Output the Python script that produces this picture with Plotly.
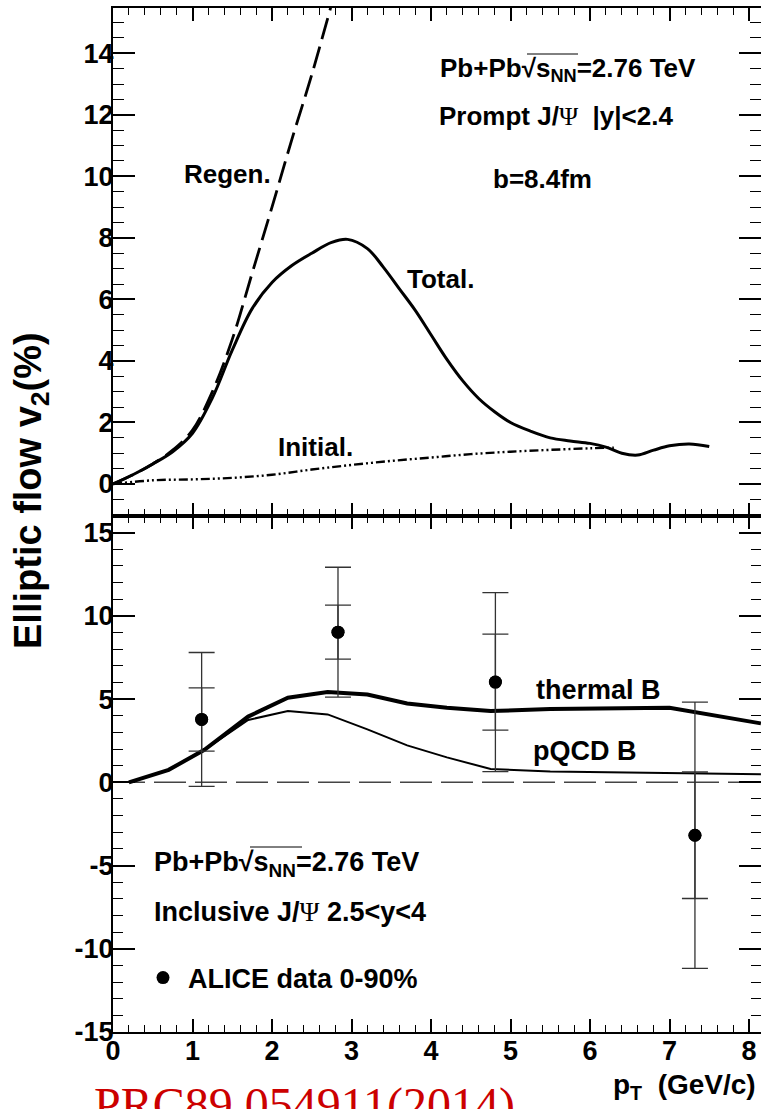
import plotly.graph_objects as go

# ---------------- data ----------------
# top panel: prompt J/psi v2 (%) vs pT
total_x = [0, 0.25, 0.5, 0.75, 1.0, 1.25, 1.5, 1.75, 2.0, 2.25, 2.5, 2.75, 2.95, 3.2, 3.4,
           3.6, 3.8, 4.0, 4.2, 4.4, 4.6, 4.8, 5.0, 5.25, 5.5, 5.75, 6.0, 6.2, 6.4, 6.6,
           6.8, 7.0, 7.25, 7.5]
total_y = [0, 0.3, 0.65, 1.05, 1.65, 2.8, 4.35, 5.7, 6.55, 7.1, 7.5, 7.85, 7.95, 7.65, 7.05,
           6.35, 5.65, 4.85, 4.05, 3.35, 2.78, 2.35, 2.0, 1.72, 1.5, 1.4, 1.32, 1.2, 1.0, 0.94,
           1.1, 1.24, 1.3, 1.22]

regen_x = [0, 0.25, 0.5, 0.75, 1.0, 1.25, 1.5, 1.75, 2.0, 2.25, 2.5, 2.75]
regen_y = [0, 0.3, 0.65, 1.1, 1.75, 3.0, 4.7, 6.85, 9.0, 11.2, 13.3, 15.6]

init_x = [0, 0.5, 1.0, 1.5, 2.0, 2.5, 3.0, 3.5, 4.0, 4.5, 5.0, 5.5, 6.0, 6.3]
init_y = [0, 0.12, 0.15, 0.2, 0.3, 0.47, 0.62, 0.75, 0.86, 0.97, 1.05, 1.11, 1.16, 1.18]

# bottom panel: inclusive J/psi v2 (%) vs pT
thermal_x = [0.2, 0.7, 1.15, 1.7, 2.2, 2.7, 3.2, 3.7, 4.2, 4.75, 5.5, 7.0, 8.15]
thermal_y = [0.0, 0.75, 1.95, 3.95, 5.08, 5.42, 5.28, 4.74, 4.48, 4.28, 4.4, 4.48, 3.54]

pqcd_x = [0.2, 0.7, 1.15, 1.7, 2.2, 2.7, 3.2, 3.7, 4.2, 4.75, 5.5, 7.0, 8.15]
pqcd_y = [0.0, 0.75, 1.95, 3.75, 4.28, 4.08, 3.18, 2.22, 1.5, 0.8, 0.65, 0.54, 0.48]

alice_x = [1.115, 2.83, 4.81, 7.32]
alice_y = [3.78, 9.02, 6.02, -3.18]
alice_err_inner = [1.9, 1.62, 2.88, 3.8]
alice_err_outer = [4.02, 3.9, 5.38, 8.0]

top_yticks = [0, 2, 4, 6, 8, 10, 12, 14]
top_yticktext = ["0", "2", "4", "6", "8", "10", "12", "14"]
bot_yticks = [-15, -10, -5, 0, 5, 10, 15]
bot_yticktext = ["-15", "-10", "-5", "0", "5", "10", "15"]
xticks = [0, 1, 2, 3, 4, 5, 6, 7, 8]
xticktext = ["0", "1", "2", "3", "4", "5", "6", "7", "8"]

# ---------------- layout helpers ----------------
W, H = 761, 1109
ML, MR, MT, MB = 113, 0, 8, 77
PW, PH = W - ML - MR, H - MT - MB


def px(xp):
    return (xp - ML) / PW


def py(yp):
    return (H - MB - yp) / PH


split = py(516)
FONT = "Liberation Sans"
tickfont = dict(family=FONT, size=27, color="black", weight="bold")
txtfont = dict(family=FONT, size=26, color="black", weight="bold")
txtfont2 = dict(family=FONT, size=27, color="black", weight="bold")
PSI = '<span style="font-family:\'Liberation Serif\';font-weight:normal">Ψ</span>'

fig = go.Figure()

fig.add_trace(go.Scatter(x=regen_x, y=regen_y, mode="lines", line_shape="spline",
                         line=dict(color="black", width=2.8, dash="22px,8px"),
                         xaxis="x", yaxis="y", showlegend=False))
fig.add_trace(go.Scatter(x=init_x, y=init_y, mode="lines", line_shape="spline",
                         line=dict(color="black", width=2.4, dash="9px,3px,2px,3px,2px,3px"),
                         xaxis="x", yaxis="y", showlegend=False))
fig.add_trace(go.Scatter(x=total_x, y=total_y, mode="lines", line_shape="spline",
                         line=dict(color="black", width=3),
                         xaxis="x", yaxis="y", showlegend=False))

fig.add_trace(go.Scatter(x=pqcd_x, y=pqcd_y, mode="lines",
                         line=dict(color="black", width=2),
                         xaxis="x2", yaxis="y2", showlegend=False))
fig.add_trace(go.Scatter(x=thermal_x, y=thermal_y, mode="lines",
                         line=dict(color="black", width=4),
                         xaxis="x2", yaxis="y2", showlegend=False))
fig.add_trace(go.Scatter(x=alice_x, y=alice_y, mode="markers",
                         marker=dict(color="black", size=13),
                         error_y=dict(type="data", array=alice_err_outer, color="#333333",
                                      thickness=1.3, width=13),
                         xaxis="x2", yaxis="y2", showlegend=False))
fig.add_trace(go.Scatter(x=alice_x, y=alice_y, mode="markers", name="ALICE data 0-90%",
                         marker=dict(color="black", size=13),
                         error_y=dict(type="data", array=alice_err_inner, color="#333333",
                                      thickness=1.3, width=13),
                         xaxis="x2", yaxis="y2", showlegend=True))

xcommon = dict(range=[0, PW / 79.5], tickmode="array", tickvals=xticks, ticktext=xticktext,
               ticks="inside", ticklen=13, tickwidth=1.5, tickcolor="black",
               minor=dict(ticks="inside", ticklen=7, dtick=0.2, tickwidth=1.2, tickcolor="black"),
               showline=True, linewidth=2, linecolor="black", mirror="allticks",
               showgrid=False, zeroline=False, tickfont=tickfont, ticklabelstandoff=-6)
ycommon = dict(ticks="inside", ticklen=22, tickwidth=1.5, tickcolor="black",
               showline=True, linewidth=2, linecolor="black", mirror="allticks",
               showgrid=False, zeroline=False, tickfont=tickfont, tickmode="array",
               ticklabelstandoff=-8)

fig.update_layout(
    width=W, height=H, margin=dict(l=ML, r=MR, t=MT, b=MB, autoexpand=False),
    paper_bgcolor="white", plot_bgcolor="white",
    xaxis=dict(**xcommon, anchor="y", showticklabels=False),
    yaxis=dict(**ycommon, domain=[split, 1], anchor="x", range=[-1.04, 15.47],
               tickvals=top_yticks, ticktext=top_yticktext,
               minor=dict(ticks="inside", ticklen=11, dtick=0.5, tickwidth=1.2, tickcolor="black")),
    xaxis2=dict(**xcommon, anchor="y2", matches="x"),
    yaxis2=dict(**ycommon, domain=[0, split], anchor="x2", range=[-15, 16],
                tickvals=bot_yticks, ticktext=bot_yticktext,
                minor=dict(ticks="inside", ticklen=10, dtick=1, tickwidth=1.2, tickcolor="black")),
    legend=dict(x=px(138), y=py(978), xanchor="left", yanchor="middle",
                bgcolor="rgba(0,0,0,0)", font=txtfont2, itemwidth=40),
)

ann = [
    dict(text="Pb+Pb√s<sub>NN</sub>=2.76 TeV", x=px(568), y=py(69), font=txtfont),
    dict(text="Prompt J/" + PSI + "  |y|<2.4", x=px(556), y=py(116), font=txtfont),
    dict(text="b=8.4fm", x=px(542), y=py(179), font=txtfont),
    dict(text="Total.", x=px(440), y=py(279), font=txtfont),
    dict(text="Regen.", x=px(227), y=py(174), font=txtfont),
    dict(text="Initial.", x=px(315), y=py(447), font=txtfont),
    dict(text="Pb+Pb√s<sub>NN</sub>=2.76 TeV", x=px(152), y=py(864), font=txtfont2, xanchor="left"),
    dict(text="Inclusive J/" + PSI + " 2.5<y<4", x=px(152), y=py(912), font=txtfont2, xanchor="left"),
    dict(text="thermal B", x=px(598), y=py(690), font=txtfont2),
    dict(text="pQCD B", x=px(585), y=py(751), font=txtfont2),
    dict(text="p<sub>T</sub>  (GeV/c)", x=px(758), y=py(1086),
         font=dict(family=FONT, size=28, color="black", weight="bold"), xanchor="right"),
    dict(text="Elliptic flow v<sub>2</sub>(%)", x=px(31), y=py(491), textangle=-90,
         font=dict(family=FONT, size=38, color="black", weight="bold")),
    dict(text="PRC89 054911(2014)", x=px(92), y=py(1105), xanchor="left",
         font=dict(family="Liberation Serif", size=48, color="#cc0000")),
]
for a in ann:
    a.setdefault("xanchor", "center")
    a.setdefault("yanchor", "middle")
    fig.add_annotation(xref="paper", yref="paper", showarrow=False, **a)

# zero reference line in the lower panel
fig.add_shape(type="line", xref="x2 domain", yref="y2", x0=0, x1=1, y0=0, y1=0,
              line=dict(color="#444444", width=1.5, dash="32px,9px"), layer="below")
# radical bars over s_NN
fig.add_shape(type="line", xref="paper", yref="paper", x0=px(527), x1=px(578), y0=py(54), y1=py(54),
              line=dict(color="black", width=1))
fig.add_shape(type="line", xref="paper", yref="paper", x0=px(250), x1=px(302), y0=py(847), y1=py(847),
              line=dict(color="black", width=1))

fig.write_html("out.html")
